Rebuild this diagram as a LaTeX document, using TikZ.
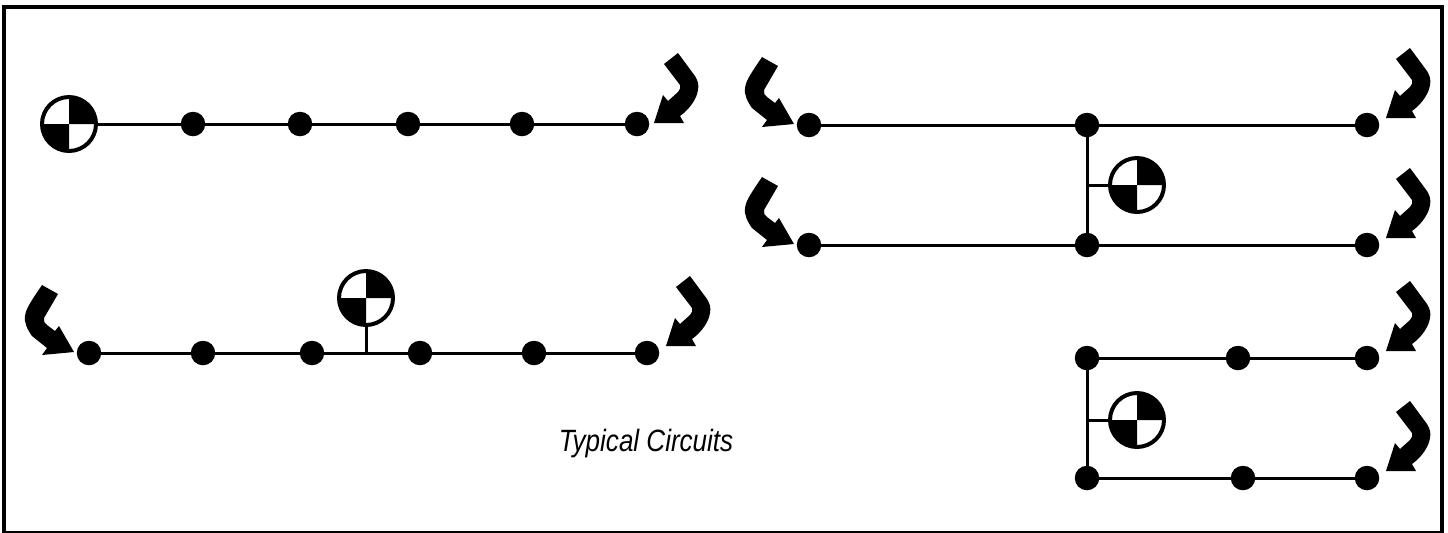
\documentclass[tikz,border=0pt]{standalone}
\usepackage{graphicx}
\usepackage{fontspec}
\setmainfont{Liberation Sans}
\tikzset{
  x=0.5pt,y=-0.5pt,
  wire/.style={line width=1.5pt,black},
  dotn/.style={circle,fill=black,draw=none,minimum size=12.25pt,inner sep=0pt,outer sep=0pt},
  cg/.pic={
    \fill[white] (0,0) circle[radius=28];
    \fill[black] (0,0) -- (-28,0) arc[start angle=180,end angle=90,radius=28] -- cycle;
    \fill[black] (0,0) -- (28,0) arc[start angle=0,end angle=-90,radius=28] -- cycle;
    \draw[line width=2pt,black] (0,0) circle[radius=27];
  },
  arrowr/.pic={
    \fill[black] (0,0) -- (9,-28) -- (14,-22) -- (24,-31)
      .. controls (26,-33) and (27,-36) .. (26,-38) -- (10,-59) -- (24,-70) -- (41,-47)
      .. controls (44,-42) and (45,-38) .. (44,-33)
      .. controls (43,-25) and (36,-14) .. (26,-7) -- (30,0) -- cycle;
  },
  arrowl/.pic={
    \fill[black] (0,0) -- (-32,3) -- (-27,-4) -- (-42,-16)
      .. controls (-47,-23) and (-50,-30) .. (-49,-36)
      .. controls (-48,-44) and (-42,-52) .. (-32,-67) -- (-16,-58) -- (-30,-34)
      .. controls (-31,-31) and (-29,-28) .. (-27,-27) -- (-19,-21) -- (-15,-26) -- cycle;
  },
  rtip/.style={shift={(19,-7)}},
  ltip/.style={shift={(-15,-1)}},
}
\begin{document}
\begin{tikzpicture}
\useasboundingbox (0,0) rectangle (1448,532);
\fill[white] (0,0) rectangle (1448,532);
\begin{scope}
\clip (0,0) rectangle (1448,532);
\draw[line width=2pt,black] (4,7) rectangle (1442,533);
\end{scope}
% circuit 1
\coordinate (g1) at (69,124);
\foreach \n/\x in {a1/193,a2/300,a3/408,a4/522,a5/637} \node[dotn] (\n) at (\x,124) {};
\draw[wire] (g1) -- (a5);
\pic at (g1) {cg};
\pic at ([shift={(17,-1)}]a5.center) {arrowr};
% circuit 2
\foreach \n/\x in {b1/89,b2/203,b3/312,b4/420,b5/534,b6/647} \node[dotn] (\n) at (\x,353) {};
\coordinate (g2) at (366,298);
\coordinate (g2s) at (366,353);
\draw[wire] (b1) -- (b6);
\draw[wire] (g2) -- (g2s);
\pic at (g2) {cg};
\pic at ([ltip]b1.center) {arrowl};
\pic at ([rtip]b6.center) {arrowr};
% circuit 3
\foreach \n/\x/\y in {c1/809/125,c2/1087/125,c3/1367/125,c4/809/245,c5/1087/245,c6/1367/245} \node[dotn] (\n) at (\x,\y) {};
\coordinate (g3) at (1137,185);
\coordinate (g3s) at (1087,185);
\draw[wire] (c1) -- (c3);
\draw[wire] (c4) -- (c6);
\draw[wire] (c2) -- (c5);
\draw[wire] (g3s) -- (g3);
\pic at (g3) {cg};
\pic at ([ltip]c1.center) {arrowl};
\pic at ([ltip]c4.center) {arrowl};
\pic at ([rtip]c3.center) {arrowr};
\pic at ([rtip]c6.center) {arrowr};
% circuit 4
\foreach \n/\x/\y in {d1/1087/358,d2/1238/358,d3/1367/358,d4/1087/478,d5/1243/478,d6/1367/478} \node[dotn] (\n) at (\x,\y) {};
\coordinate (g4) at (1137,420);
\coordinate (g4s) at (1087,420);
\draw[wire] (d1) -- (d3);
\draw[wire] (d4) -- (d6);
\draw[wire] (d1) -- (d4);
\draw[wire] (g4s) -- (g4);
\pic at (g4) {cg};
\pic at ([rtip]d3.center) {arrowr};
\pic at ([rtip]d6.center) {arrowr};
\node[anchor=base,inner sep=0pt] (t) at (646,451) {\scalebox{0.845}[1]{\fontsize{15.4pt}{18pt}\selectfont\itshape Typical Circuits}};
\end{tikzpicture}
\end{document}
